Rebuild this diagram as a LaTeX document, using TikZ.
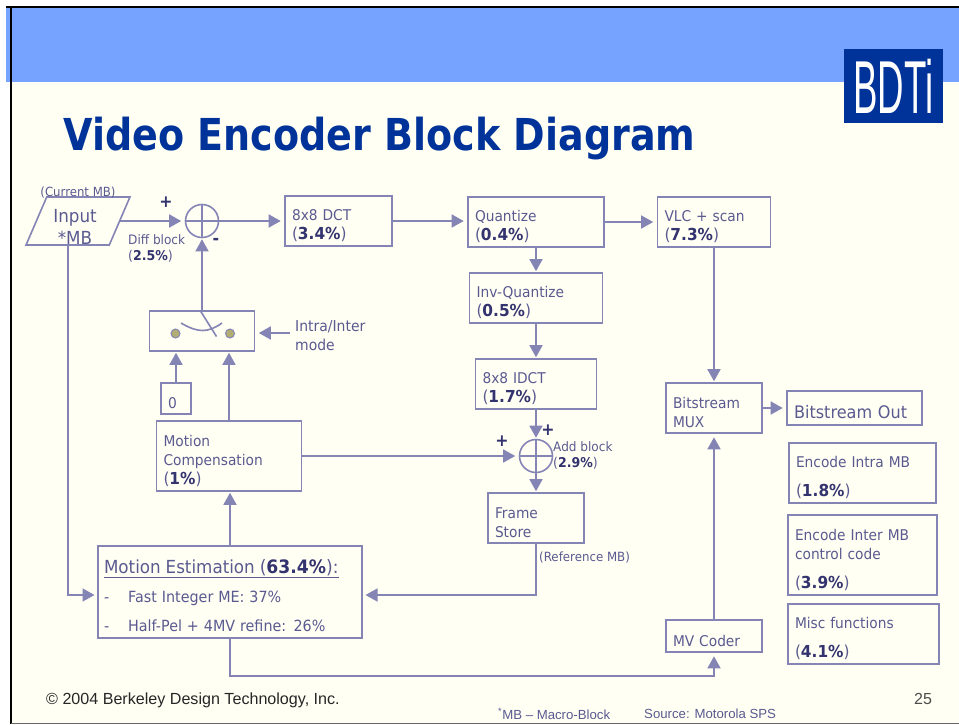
\documentclass[tikz,border=0pt]{standalone}
\usepackage{fontspec}
\setmainfont{DejaVu Sans}[FakeStretch=0.93]
\newfontfamily\titlefont{DejaVu Sans}[FakeStretch=0.865]
\newfontfamily\footfont{Liberation Sans}
\usepackage{xcolor}
\usetikzlibrary{shapes.geometric, arrows.meta, positioning}
\definecolor{linecol}{HTML}{8585B5}
\definecolor{textcol}{HTML}{5A5A90}
\definecolor{pctcol}{HTML}{33336F}
\definecolor{papercol}{HTML}{FFFFF4}
\definecolor{bandcol}{HTML}{76A3FF}
\definecolor{titlecol}{HTML}{003399}
\newcommand{\pct}[2][16.5]{{\fontsize{#1}{19}\selectfont(\textcolor{pctcol}{\textbf{#2\%}})}}
\tikzstyle{block} = [rectangle, draw=linecol, line width=1.6pt, inner xsep=7pt, inner ysep=0pt, align=left, text=textcol, font=\fontsize{14.8}{19}\selectfont, execute at begin node={\rule{0pt}{21pt}}]
\tikzset{wh/.style 2 args={minimum width=#1, minimum height=#2, text width=#1pt-14pt}}
\tikzstyle{io} = [trapezium, trapezium left angle=66, trapezium right angle=114, trapezium stretches=true, minimum width=104, minimum height=48, inner sep=0pt, text width=62pt, align=center, draw=linecol, line width=1.6pt, text=textcol, font=\fontsize{18}{22}\selectfont, execute at begin node={\rule{0pt}{24pt}\hspace*{-6pt}}]
\tikzstyle{sumnode} = [circle, draw=linecol, line width=1.6pt, minimum size=33, inner sep=0pt, path picture={\draw [linecol, line width=1.6pt] (path picture bounding box.north) -- (path picture bounding box.south) (path picture bounding box.west) -- (path picture bounding box.east);}]
\tikzstyle{arrow} = [line width=1.6pt, draw=linecol, -{Triangle[length=12pt,width=13pt]}, shorten >=3.5pt]
\tikzstyle{uparrow} = [arrow, shorten >=1pt]
\tikzstyle{wire} = [line width=1.6pt, draw=linecol]
\tikzstyle{txt} = [inner sep=0pt, anchor=west, align=left, text=textcol, font=\fontsize{13}{16}\selectfont]
\tikzstyle{sign} = [inner sep=0pt, text=pctcol, font=\fontsize{17}{17}\selectfont\bfseries]
\begin{document}
\begin{tikzpicture}[x=1pt, y=-1pt]
        \useasboundingbox (0,0) rectangle (959,724);
        \fill [papercol] (11,8) rectangle (959,723);
        \fill [bandcol] (6,8) rectangle (959,82);
        \draw [black, line width=1.5pt] (6,7) -- (959,7);
        \draw [black, line width=2pt] (10.5,7) -- (10.5,723.5);
        \draw [black!60, line width=1pt] (11,723.5) -- (959,723.5);

        \node (logo) [rectangle, fill=titlecol, minimum width=99, minimum height=74, inner sep=0pt, text=white] at (893.5,86) {\footfont\fontsize{30}{30}\selectfont\scalebox{1.22}[2.5]{BDTi}};
        \node (title) [inner sep=0pt, anchor=base west, text=titlecol, font=\titlefont\fontsize{44}{50}\selectfont\bfseries] at (63,150) {Video Encoder Block Diagram};

        \node (input_mb) [io] at (78,221) {Input\\\hspace*{-6pt}{*}MB};
        \node (current_mb) [txt, anchor=center, font=\fontsize{12.6}{14}\selectfont] at (78,192.5) {(Current MB)};
        \node (sum_diff) [sumnode] at (202,221) {};
        \node (dct) [block, wh={107}{50}] at (338.5,221) {8x8 DCT\\\pct{3.4}};
        \node (quantize) [block, wh={136}{50}] at (536,222) {Quantize\\\pct{0.4}};
        \node (vlc) [block, wh={113}{50}] at (714,222) {VLC + scan\\\pct{7.3}};
        \node (inv_quant) [block, wh={133}{50}] at (536,298) {Inv-Quantize\\\pct{0.5}};
        \node (idct) [block, wh={121}{50}] at (536,384) {8x8 IDCT\\\pct{1.7}};
        \node (sum_add) [sumnode] at (536,456) {};
        \node (frame) [block, wh={96}{50}] at (536,518) {Frame\\Store};
        \node (switch) [block, wh={105}{40}] at (202,331) {};
        \node (zero) [block, wh={30}{31}] at (176,398.5) {0};
        \node (motion_comp) [block, wh={145}{70}] at (229,456) {Motion\\Compensation\\\pct{1}};
        \node (motion_est) [block, wh={264}{92}, inner xsep=6pt, text width=252pt, execute at begin node={\rule{0pt}{21pt}}] at (230,592) {\fontsize{18}{30}\selectfont\underline{Motion Estimation \pct[18.5]{63.4}:}\\[9pt]\fontsize{15.4}{20}\selectfont -\hspace{19pt}Fast Integer ME: 37\%\\[10pt]-\hspace{19pt}Half-Pel + 4MV refine: 26\%};
        \node (mux) [block, wh={96}{50}] at (714,408) {Bitstream\\MUX};
        \node (out) [block, wh={135}{34}, font=\fontsize{17.3}{22}\selectfont] at (854.5,408) {Bitstream Out};
        \node (mv_coder) [block, wh={96}{32}] at (714,636) {MV Coder};
        \node (intra) [block, wh={147}{60}] at (862.5,473) {Encode Intra MB\\[10pt]\pct{1.8}};
        \node (inter) [block, wh={149}{80}] at (862.5,555) {Encode Inter MB\\control code\\[10pt]\pct{3.9}};
        \node (misc) [block, wh={151}{60}] at (863.5,634) {Misc functions\\[10pt]\pct{4.1}};

        \node (plus_diff) [sign] at (166,202) {+};
        \node (minus_diff) [sign] at (216,241) {-};
        \node (plus_add_a) [sign] at (548,430) {+};
        \node (plus_add_b) [sign] at (502,441) {+};
        \node (diff_label) [txt] at (128,248) {Diff block\\\pct[13.5]{2.5}};
        \node (add_label) [txt] at (553,455) {Add block\\\pct[13.5]{2.9}};
        \node (ref_label) [txt, font=\fontsize{12.7}{14}\selectfont] at (539,558) {(Reference MB)};
        \node (mode_label) [txt, font=\fontsize{15}{19}\selectfont] at (295,336) {Intra/Inter\\mode};

        % switch
        \fill [fill=olive!50!gray!70, draw=linecol, line width=1pt] (175.5,333.5) circle (4.5);
        \fill [fill=olive!50!gray!70, draw=linecol, line width=1pt] (230,333.5) circle (4.5);
        \draw [wire] (181,323) .. controls (198,333) and (208,333) .. (222,323);
        \draw [wire] (200.5,311) -- (216.5,336.5);

        \coordinate (mode_in) at (290,333);
        \coordinate (input_down) at (68,245);
        \coordinate (me_in) at (98,595);
        \coordinate (me_back) at (362,595);

        \draw [arrow] (input_mb) -- (sum_diff);
        \draw [arrow] (sum_diff) -- (dct);
        \draw [arrow] (dct.east) -- (dct.east -| quantize.west);
        \draw [arrow] (quantize) -- (vlc);
        \draw [uparrow] (quantize) -- (inv_quant);
        \draw [uparrow] (inv_quant) -- (idct);
        \draw [uparrow] (idct) -- (sum_add);
        \draw [uparrow] (sum_add) -- (frame);
        \draw [uparrow] (switch) -- (sum_diff);
        \draw [arrow] (mode_in) -- (mode_in -| switch.east);
        \draw [uparrow] (zero) -- (zero |- switch.south);
        \draw [uparrow] (motion_comp.north) -- (motion_comp.north |- switch.south);
        \draw [uparrow] (motion_est.north) -- (motion_est.north |- motion_comp.south);
        \draw [arrow] (motion_comp) -- (sum_add);
        \draw [arrow] (input_down) |- (me_in);
        \draw [arrow] (frame.south) |- (me_back);
        \draw [uparrow] (vlc) -- (mux);
        \draw [arrow] (mux.east) -- (out.west);
        \draw [arrow] (mv_coder) -- (mux);
        \draw [arrow] (motion_est.south) -- ++(0,37) -| (mv_coder.south);

        \node (copyright) [txt, text=black!85, font=\footfont\fontsize{16.1}{18}\selectfont] at (46,700) {© 2004 Berkeley Design Technology, Inc.};
        \node (page_num) [txt, text=black!70, font=\footfont\fontsize{16}{18}\selectfont] at (914,699) {25};
        \node (mb_note) [txt, font=\footfont\fontsize{13.2}{15}\selectfont] at (498,714) {\textsuperscript{*}MB – Macro-Block};
        \node (source) [txt, font=\footfont\fontsize{13.2}{15}\selectfont] at (644,714) {Source: Motorola SPS};
    \end{tikzpicture}
\end{document}
